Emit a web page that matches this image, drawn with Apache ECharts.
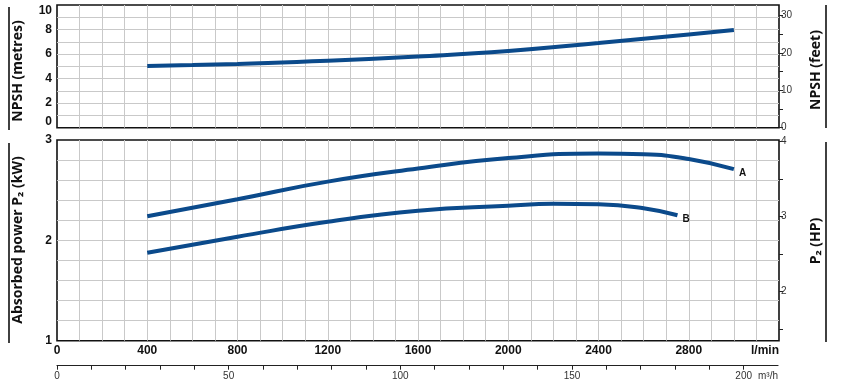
<!DOCTYPE html>
<html><head><meta charset="utf-8">
<script src="https://cdn.jsdelivr.net/npm/echarts@6/dist/echarts.min.js"></script>
<style>html,body{margin:0;padding:0;background:#fff}#c{width:842px;height:385px}</style>
</head><body><div id="c"></div>
<script>
// ---- data ----
const flowNPSH = [400, 600, 800, 1200, 1600, 2000, 2400, 2800, 3000];
const npshMetres = [5.03, 5.1, 5.2, 5.45, 5.8, 6.25, 6.9, 7.6, 7.96];
const flowA = [400, 800, 1200, 1600, 2000, 2400, 2600, 2800, 3000];
const powerA = [2.24, 2.41, 2.585, 2.715, 2.82, 2.865, 2.857, 2.81, 2.71];
const flowB = [400, 800, 1200, 1600, 2000, 2200, 2400, 2600, 2750];
const powerB = [1.877, 2.036, 2.185, 2.295, 2.345, 2.365, 2.36, 2.32, 2.25];
const flowLabels = [0, 400, 800, 1200, 1600, 2000, 2400, 2800, 3200];
const npshLabels = [0, 2, 4, 6, 8, 10];
const feetTicks = [0, 5, 10, 15, 20, 25, 30];
const feetLabels = [0, 10, 20, 30];
const kwLabels = [1, 2, 3];
const hpTicks = [1.5, 2, 2.5, 3, 3.5, 4];
const hpLabels = [2, 3, 4];
const m3hTicks = [0, 10, 20, 30, 40, 50, 60, 70, 80, 90, 100, 110, 120, 130, 140, 150, 160, 170, 180, 190, 200];
const m3hLabels = [0, 50, 100, 150, 200, 210];

const M_TO_FT = 3.28084;
const KW_TO_HP = 1 / 0.7457;
const curveColor = '#0b4a8b';
const gridColor = '#c9c9c9';
const boldFont = "'Liberation Sans',Arial,sans-serif";
const titleFont = "'Open Sans','Noto Sans',sans-serif";

const zip = (xs, ys) => xs.map((x, i) => [x, ys[i]]);

const chart = echarts.init(document.getElementById('c'), null, {renderer: 'canvas'});

const splitL = {show: true, showMinLine: false, showMaxLine: false, lineStyle: {color: gridColor, width: 1}};
const boldLabel = {fontFamily: boldFont, fontWeight: 'bold', fontSize: 12, color: '#111'};
const smallLabel = {fontFamily: "'Liberation Sans',Arial,sans-serif", fontSize: 10, color: '#333'};

chart.setOption({
  animation: false,
  backgroundColor: '#fff',
  grid: [
    {left: 57, right: 63, top: 5, height: 122.7, show: true, borderColor: '#111', borderWidth: 1.6, backgroundColor: 'transparent'},
    {left: 57, right: 63, top: 140, height: 200.7, show: true, borderColor: '#111', borderWidth: 1.6, backgroundColor: 'transparent'},
    {left: 57, right: 64, top: 364.7, height: 1}
  ],
  xAxis: [
    {gridIndex: 0, type: 'value', min: 0, max: 3200, interval: 100,
     axisLine: {show: false}, axisTick: {show: false}, axisLabel: {show: false}, splitLine: splitL},
    {gridIndex: 1, type: 'value', min: 0, max: 3200, interval: 100,
     axisLine: {show: false}, axisTick: {show: false},
     axisLabel: Object.assign({show: true, margin: 4, customValues: flowLabels, alignMaxLabel: 'right',
       formatter: v => v === 3200 ? 'l/min' : String(v)}, boldLabel),
     splitLine: splitL},
    {gridIndex: 2, type: 'value', min: 0, max: 210, interval: 10,
     axisLine: {show: true, lineStyle: {color: '#222', width: 1.2}},
     axisTick: {show: true, inside: false, length: 4, customValues: m3hTicks, lineStyle: {color: '#222', width: 1}},
     axisLabel: Object.assign({show: true, margin: 6, customValues: m3hLabels, alignMaxLabel: 'right',
       formatter: v => v === 210 ? 'm³/h' : String(v)}, smallLabel),
     splitLine: {show: false}}
  ],
  yAxis: [
    {gridIndex: 0, type: 'value', position: 'left', min: 0, max: 10, interval: 1,
     axisLine: {show: false}, axisTick: {show: false},
     axisLabel: Object.assign({margin: 5, customValues: npshLabels, verticalAlignMinLabel: 'bottom', verticalAlignMaxLabel: 'top'}, boldLabel),
     splitLine: splitL},
    {gridIndex: 0, type: 'value', position: 'right', min: 0, max: 10 * M_TO_FT,
     axisLine: {show: false},
     axisTick: {show: true, inside: false, length: 4, customValues: feetTicks, lineStyle: {color: '#222'}},
     axisLabel: Object.assign({margin: 2, customValues: feetLabels}, smallLabel),
     splitLine: {show: false}},
    {gridIndex: 1, type: 'value', position: 'left', min: 1, max: 3, interval: 0.2,
     axisLine: {show: false}, axisTick: {show: false},
     axisLabel: Object.assign({margin: 5, customValues: kwLabels}, boldLabel),
     splitLine: splitL},
    {gridIndex: 1, type: 'value', position: 'right', min: 1 * KW_TO_HP, max: 3 * KW_TO_HP,
     axisLine: {show: false},
     axisTick: {show: true, inside: false, length: 4, customValues: hpTicks, lineStyle: {color: '#222'}},
     axisLabel: Object.assign({margin: 2, customValues: hpLabels}, smallLabel),
     splitLine: {show: false}},
    {gridIndex: 2, type: 'value', show: false, min: 0, max: 1}
  ],
  series: [
    {type: 'line', xAxisIndex: 0, yAxisIndex: 0, data: zip(flowNPSH, npshMetres), smooth: 0.5,
     symbol: 'none', lineStyle: {color: curveColor, width: 4, cap: 'butt'}},
    {type: 'line', xAxisIndex: 1, yAxisIndex: 2, data: zip(flowA, powerA), smooth: 0.5,
     symbol: 'none', lineStyle: {color: curveColor, width: 4, cap: 'butt'},
     endLabel: {show: true, formatter: 'A', distance: 5, offset: [0, 4], fontFamily: "'Liberation Sans',Arial,sans-serif", fontWeight: 'bold', fontSize: 10, color: '#111'}},
    {type: 'line', xAxisIndex: 1, yAxisIndex: 2, data: zip(flowB, powerB), smooth: 0.5,
     symbol: 'none', lineStyle: {color: curveColor, width: 4, cap: 'butt'},
     endLabel: {show: true, formatter: 'B', distance: 5, offset: [0, 4], fontFamily: "'Liberation Sans',Arial,sans-serif", fontWeight: 'bold', fontSize: 10, color: '#111'}}
  ],
  graphic: [
    {type: 'line', shape: {x1: 9, y1: 7, x2: 9, y2: 130}, style: {stroke: '#111', lineWidth: 1.6}},
    {type: 'line', shape: {x1: 9, y1: 143, x2: 9, y2: 343}, style: {stroke: '#111', lineWidth: 1.6}},
    {type: 'line', shape: {x1: 826, y1: 5, x2: 826, y2: 128}, style: {stroke: '#111', lineWidth: 1.6}},
    {type: 'line', shape: {x1: 826, y1: 142, x2: 826, y2: 342}, style: {stroke: '#111', lineWidth: 1.6}},
    {type: 'text', x: 18.5, y: 71, rotation: Math.PI / 2,
     style: {text: 'NPSH (metres)', fontFamily: titleFont, fontWeight: 'bold', fontSize: 14, fill: '#111', align: 'center', verticalAlign: 'middle'}},
    {type: 'text', x: 18.5, y: 240, rotation: Math.PI / 2,
     style: {text: 'Absorbed power P₂ (kW)', fontFamily: titleFont, fontWeight: 'bold', fontSize: 14, fill: '#111', align: 'center', verticalAlign: 'middle'}},
    {type: 'text', x: 816.5, y: 70, rotation: Math.PI / 2,
     style: {text: 'NPSH (feet)', fontFamily: titleFont, fontWeight: 'bold', fontSize: 14, fill: '#111', align: 'center', verticalAlign: 'middle'}},
    {type: 'text', x: 816.5, y: 241, rotation: Math.PI / 2,
     style: {text: 'P₂ (HP)', fontFamily: titleFont, fontWeight: 'bold', fontSize: 14, fill: '#111', align: 'center', verticalAlign: 'middle'}}
  ]
});
</script></body></html>
